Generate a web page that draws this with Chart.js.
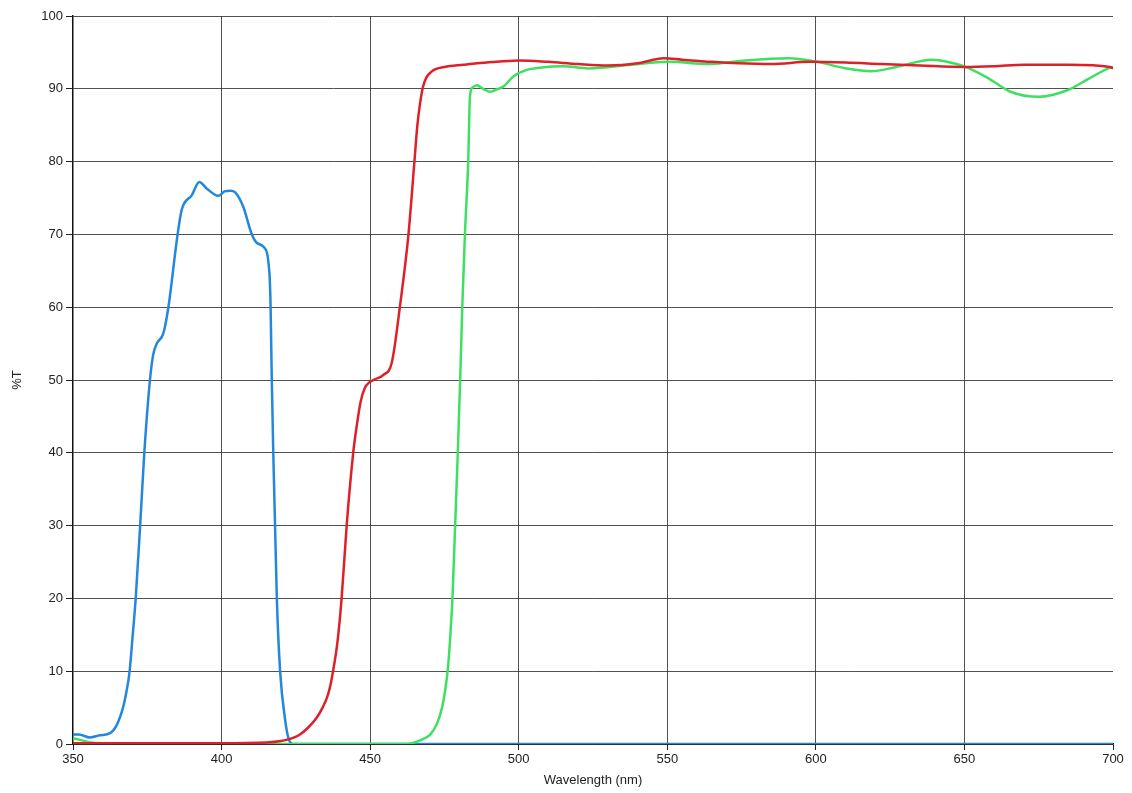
<!DOCTYPE html>
<html>
<head>
<meta charset="utf-8">
<title>%T vs Wavelength</title>
<script src="https://cdn.jsdelivr.net/npm/chart.js@4.4.1/dist/chart.umd.min.js"></script>
<style>
  html, body { margin: 0; padding: 0; background: #fff; }
  #chart { display: block; }
</style>
</head>
<body>
<canvas id="chart" width="1132" height="793"></canvas>
<script>
// axis ranges
const xMin = 350, xMax = 700;
const yMin = 0, yMax = 100;

// blue band (UV/violet filter)
const blueX = [350, 352, 355.7, 359, 362.5, 364.7, 366.9, 368, 369, 370, 371.1, 372.6, 374, 375.9, 377, 378.2, 380.4, 382.1, 385.2, 386.6, 390, 392.5, 395, 398.9, 401, 403, 404.5, 407.3, 410.1, 412, 414.1, 416.1, 416.5, 416.9, 417.4, 418, 418.6, 419.7, 421.4, 422.5, 424, 450, 500, 600, 700];
const blueY = [1.3, 1.3, 0.9, 1.2, 1.5, 2.6, 5.1, 7.2, 9.8, 14.5, 20, 30, 40, 50, 53.5, 55, 56.4, 60, 70, 73.4, 75.4, 77.2, 76.3, 75.3, 75.9, 76, 75.8, 73.8, 70.1, 68.8, 68.3, 64.7, 60, 50, 40, 30, 20, 10, 3.3, 0.8, 0, 0, 0, 0, 0];

// red long-pass
const redX = [350, 400, 415, 420, 423, 426, 429, 432, 434, 435.5, 436.6, 437.6, 439, 440.4, 442.1, 444.3, 445.6, 446.8, 448.2, 449.8, 451.6, 454.5, 457.3, 460, 462.9, 464.9, 465.9, 466.8, 467.8, 469, 470.5, 472, 475, 481.4, 486, 492.6, 500.5, 510, 520, 530, 540, 548.8, 555, 565, 574, 585, 598, 610, 622, 635, 649.8, 660, 670, 685, 699, 700];
const redY = [0.1, 0.1, 0.2, 0.4, 0.7, 1.2, 2.2, 3.6, 5, 6.4, 8, 10.2, 14, 20, 30, 40, 44, 47, 48.9, 49.7, 50.1, 50.7, 52.4, 60, 70, 80, 85, 88, 90.3, 91.6, 92.3, 92.7, 93.0, 93.3, 93.5, 93.7, 93.9, 93.7, 93.4, 93.2, 93.5, 94.2, 94.0, 93.7, 93.5, 93.4, 93.7, 93.6, 93.4, 93.2, 93.0, 93.1, 93.3, 93.3, 93.0, 92.8];

// green long-pass
const greenX = [350, 353, 356, 360, 400, 462, 466.8, 470.2, 472.5, 474.2, 475.3, 476.2, 477, 477.7, 478.6, 479.5, 480.3, 481, 481.9, 483, 483.6, 484.5, 485.9, 488, 490.3, 492.5, 494.8, 498.2, 502.7, 507, 515, 523.5, 537.9, 550, 564.4, 576.4, 590.8, 600.5, 610.2, 618.6, 627, 639.2, 646.4, 651, 658.2, 665.5, 675, 684.6, 691.9, 699, 700];
const greenY = [0.8, 0.5, 0.2, 0.1, 0, 0, 0.5, 1.3, 2.8, 5, 7.5, 10.5, 15, 20, 30, 40, 50, 60, 70, 80, 89, 90.2, 90.5, 90.0, 89.6, 89.9, 90.3, 91.7, 92.6, 92.9, 93.1, 92.8, 93.3, 93.7, 93.4, 93.9, 94.2, 93.7, 92.8, 92.4, 93.0, 94.0, 93.5, 92.9, 91.4, 89.6, 88.9, 89.8, 91.4, 92.9, 93.0];

function toPoints(xs, ys){
  return xs.map((x, i) => ({ x: x, y: ys[i] }));
}

const font = { family: '"Liberation Sans", Arial, sans-serif', size: 13 };
const gridCol = 'rgba(50,50,50,0.85)';

function lineSet(label, xs, ys, color){
  return {
    label: label,
    data: toPoints(xs, ys),
    borderColor: color,
    borderWidth: 2.5,
    pointRadius: 0,
    cubicInterpolationMode: 'monotone',
    fill: false
  };
}

new Chart(document.getElementById('chart').getContext('2d'), {
  type: 'line',
  data: {
    datasets: [
      lineSet('Red', redX, redY, '#dc2228'),
      lineSet('Green', greenX, greenY, '#3fe062'),
      lineSet('Blue', blueX, blueY, '#2388dc')
    ]
  },
  options: {
    responsive: false,
    animation: false,
    events: [],
    layout: { padding: { top: 16, right: 19, left: 0, bottom: 0 } },
    plugins: { legend: { display: false }, tooltip: { enabled: false } },
    scales: {
      x: {
        type: 'linear',
        min: xMin, max: xMax,
        ticks: { stepSize: 50, color: '#222', font: font, padding: 2, maxRotation: 0 },
        grid: {
          color: ctx => (ctx.tick && (ctx.tick.value === xMin || ctx.tick.value === xMax)) ? 'rgba(0,0,0,0)' : gridCol,
          tickColor: '#222',
          tickLength: 6,
          lineWidth: 1
        },
        border: { color: '#111', width: 1.5 },
        title: { display: true, text: 'Wavelength (nm)', color: '#222', font: font, padding: { top: 0, bottom: 5 } },
        afterFit: s => { s.height = 49; }
      },
      y: {
        min: yMin, max: yMax,
        ticks: { stepSize: 10, color: '#222', font: font, padding: 3 },
        grid: { color: gridCol, tickColor: '#222', tickLength: 7, lineWidth: 1 },
        border: { color: '#111', width: 1.5 },
        title: { display: true, text: '%T', color: '#222', font: font, padding: { top: 10, bottom: 0 } },
        afterFit: s => { s.width = 73; }
      }
    }
  }
});
</script>
</body>
</html>
